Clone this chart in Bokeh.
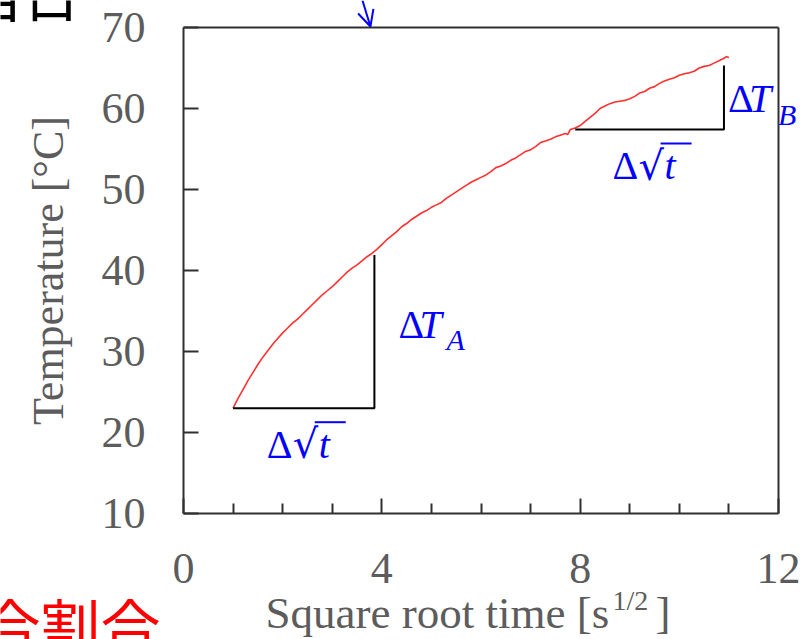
from bokeh.plotting import figure
from bokeh.models import Range1d, FixedTicker, Label, Arrow, OpenHead, LinearAxis
from bokeh.embed import file_html
from bokeh.resources import INLINE

# Measured heating curve: square root of elapsed time [s^1/2] vs temperature [degC]
sqrt_time = [1.0, 1.1, 1.2, 1.3, 1.4, 1.5, 1.6, 1.7, 1.8, 1.9,
             2.0, 2.1, 2.2, 2.3, 2.4, 2.5, 2.6, 2.7, 2.8, 2.9,
             3.0, 3.1, 3.2, 3.3, 3.4, 3.5, 3.6, 3.7, 3.8, 3.9,
             4.0, 4.1, 4.2, 4.3, 4.4, 4.5, 4.6, 4.7, 4.8, 4.9,
             5.0, 5.1, 5.2, 5.3, 5.4, 5.5, 5.6, 5.7, 5.8, 5.9,
             6.0, 6.1, 6.2, 6.3, 6.4, 6.5, 6.6, 6.7, 6.8, 6.9,
             7.0, 7.1, 7.2, 7.3, 7.4, 7.5, 7.6, 7.7, 7.75, 7.8, 7.9,
             8.0, 8.1, 8.2, 8.3, 8.4, 8.5, 8.6, 8.7, 8.8, 8.9,
             9.0, 9.1, 9.2, 9.3, 9.4, 9.5, 9.6, 9.7, 9.8, 9.9,
             10.0, 10.1, 10.2, 10.3, 10.4, 10.5, 10.6, 10.7, 10.8, 10.9, 10.95, 11.0]
temperature = [23.0, 24.2, 25.3, 26.4, 27.4, 28.4, 29.3, 30.1, 30.9, 31.6,
               32.3, 32.9, 33.5, 34.0, 34.6, 35.2, 35.8, 36.4, 37.0, 37.5,
               38.0, 38.6, 39.2, 39.8, 40.3, 40.7, 41.2, 41.7, 42.1, 42.6,
               43.2, 43.8, 44.3, 44.8, 45.4, 45.8, 46.3, 46.7, 47.1, 47.4,
               47.8, 48.1, 48.4, 48.9, 49.3, 49.7, 50.1, 50.5, 50.9, 51.2,
               51.5, 51.8, 52.2, 52.7, 52.9, 53.2, 53.6, 53.9, 54.3, 54.7,
               54.9, 55.3, 55.8, 56.0, 56.2, 56.5, 56.7, 56.9, 56.8, 57.4, 57.6,
               57.9, 58.4, 58.9, 59.4, 60.0, 60.3, 60.6, 60.8, 60.9, 61.0,
               61.2, 61.5, 61.9, 62.1, 62.5, 62.7, 63.1, 63.4, 63.6, 63.8,
               64.1, 64.3, 64.4, 64.6, 65.0, 65.2, 65.3, 65.6, 65.9, 66.2, 66.4, 66.3]

# Slope triangles (early stage A, late stage B)
tri_a_x = [1.0, 3.85, 3.85]
tri_a_y = [23.0, 23.0, 41.9]
tri_b_x = [7.9, 10.9, 10.9]
tri_b_y = [57.4, 57.4, 65.3]

x_major = [0, 4, 8, 12]
x_minor = [1, 2, 3, 5, 6, 7, 9, 10, 11]
y_major = [10, 20, 30, 40, 50, 60, 70]

# Canvas and the pixel box that holds the axes' span
W, H = 806, 639
LEFT, RIGHT, TOP, BOTTOM = 183, 28, 27, 126
FW, FH = W - LEFT - RIGHT, H - TOP - BOTTOM
X0, X1, Y0, Y1 = x_major[0], x_major[-1], y_major[0], y_major[-1]
PX_X = FW / (X1 - X0)   # pixels per x unit
PX_Y = FH / (Y1 - Y0)   # pixels per y unit

SERIF = "Liberation Serif"
GREY = "#5c5c5c"
AXIS = "#303030"
BLUE = "#0000ff"

# The frame covers the whole canvas so that notes around the box are not clipped;
# the axes are pinned to the data box edges.
p = figure(width=W, height=H,
           x_range=Range1d(X0 - LEFT / PX_X, X1 + RIGHT / PX_X),
           y_range=Range1d(Y0 - BOTTOM / PX_Y, Y1 + TOP / PX_Y),
           output_backend="svg", toolbar_location=None,
           min_border=0, min_border_left=0, min_border_right=0,
           min_border_top=0, min_border_bottom=0)
p.grid.visible = False
p.background_fill_color = "white"
p.border_fill_color = "white"
p.outline_line_color = None

xa = p.xaxis[0]
xa.ticker = FixedTicker(ticks=x_major, minor_ticks=x_minor)
xa.fixed_location = Y0
xa.bounds = (X0, X1)
ya = p.yaxis[0]
ya.ticker = FixedTicker(ticks=y_major, minor_ticks=[])
ya.fixed_location = X0
ya.bounds = (Y0, Y1)
for ax in (xa, ya):
    ax.axis_line_color = AXIS
    ax.axis_line_width = 2
    ax.major_tick_line_color = AXIS
    ax.major_tick_line_width = 2
    ax.minor_tick_line_color = AXIS
    ax.minor_tick_line_width = 2
    ax.major_tick_in = 15
    ax.major_tick_out = 0
    ax.minor_tick_in = 10
    ax.minor_tick_out = 0
    ax.major_label_text_font = SERIF
    ax.major_label_text_font_size = "44px"
    ax.major_label_text_color = GREY
xa.major_label_standoff = 40
ya.major_label_standoff = 38
ya.axis_label = "Temperature [°C]"
ya.axis_label_text_font = SERIF
ya.axis_label_text_font_size = "44px"
ya.axis_label_text_font_style = "normal"
ya.axis_label_text_color = GREY
ya.axis_label_standoff = 26

# plain right and top edges of the box
right_edge = LinearAxis(fixed_location=X1, bounds=(Y0, Y1), ticker=FixedTicker(ticks=[]),
                        axis_line_color=AXIS, axis_line_width=2,
                        major_tick_line_color=None, minor_tick_line_color=None,
                        major_label_text_color=None)
top_edge = LinearAxis(fixed_location=Y1, bounds=(X0, X1), ticker=FixedTicker(ticks=[]),
                      axis_line_color=AXIS, axis_line_width=2,
                      major_tick_line_color=None, minor_tick_line_color=None,
                      major_label_text_color=None)
p.add_layout(right_edge, "right")
p.add_layout(top_edge, "above")

# heating curve
p.line(sqrt_time, temperature, line_color="#ff3030", line_width=1.6, line_join="round")

# slope triangles
p.line(tri_a_x, tri_a_y, line_color="black", line_width=2)
p.line(tri_b_x, tri_b_y, line_color="black", line_width=2)


def canvas_label(text, cx, cy, **kw):
    """Label placed by canvas pixel position (y measured downward)."""
    return Label(x=cx, y=H - cy, x_units="screen", y_units="screen", text=text, **kw)


# x-axis title with superscript exponent
p.add_layout(canvas_label("Square root time [s", 265, 612, text_font=SERIF, text_font_size="45px",
                          text_color=GREY, text_baseline="alphabetic"))
p.add_layout(canvas_label("1/2", 612, 600, text_font=SERIF, text_font_size="28px",
                          text_color=GREY, text_baseline="alphabetic"))
p.add_layout(canvas_label("]", 655, 612, text_font=SERIF, text_font_size="45px",
                          text_color=GREY, text_baseline="alphabetic"))


def delta_label(text, x, y, dx, dy, size="40px", style="normal", font=SERIF):
    return Label(x=x, y=y, x_offset=dx, y_offset=dy, text=text, text_font=font,
                 text_font_size=size, text_font_style=style, text_color=BLUE,
                 text_baseline="alphabetic")


# ΔT_A beside the vertical leg of triangle A
ax_, ay_ = tri_a_x[1], tri_a_y[1]
p.add_layout(delta_label("Δ", ax_, ay_, 24, 84))
p.add_layout(delta_label("T", ax_, ay_, 45, 84, style="italic"))
p.add_layout(delta_label("A", ax_, ay_, 72, 69, size="30px", style="italic"))

# ΔT_B beside the vertical leg of triangle B
bx_, by_ = tri_b_x[1], tri_b_y[1]
p.add_layout(delta_label("Δ", bx_, by_, 4, 31))
p.add_layout(delta_label("T", bx_, by_, 25, 31, style="italic"))
p.add_layout(delta_label("B", bx_, by_, 54, 15, size="30px", style="italic"))


def delta_sqrt(xm, y):
    """Δ√t under the horizontal leg centred at xm."""
    p.add_layout(delta_label("Δ", xm, y, -37, -36))
    p.add_layout(delta_label("√", xm, y, -11, -36, font="DejaVu Serif"))
    p.add_layout(delta_label("t", xm, y, 15, -36, style="italic"))
    bar_y = y - 14 / PX_Y
    p.segment(x0=[xm + 11 / PX_X], y0=[bar_y], x1=[xm + 42 / PX_X], y1=[bar_y],
              line_color=BLUE, line_width=2)


delta_sqrt((tri_a_x[0] + tri_a_x[1]) / 2, tri_a_y[0])
delta_sqrt((tri_b_x[0] + tri_b_x[1]) / 2, tri_b_y[0])

# pointer arrow reaching the top edge of the box
p.add_layout(Arrow(x_start=3.61, y_start=Y1 + TOP / PX_Y, x_end=3.77, y_end=Y1 + 1 / PX_Y,
                   line_color=BLUE, line_width=2,
                   end=OpenHead(size=16, line_color=BLUE, line_width=2)))

# neighbouring captions of the page
p.add_layout(canvas_label("当日", 80, -9, text_font="Noto Sans CJK JP", text_font_size="58px",
                          text_color="black", text_align="right", text_baseline="alphabetic"))
p.add_layout(canvas_label("混合割合", 160, 579, text_font="Noto Sans CJK JP", text_font_size="60px",
                          text_color="#ff0000", text_align="right", text_baseline="top"))

open("out.html", "w").write(file_html(p, INLINE))
